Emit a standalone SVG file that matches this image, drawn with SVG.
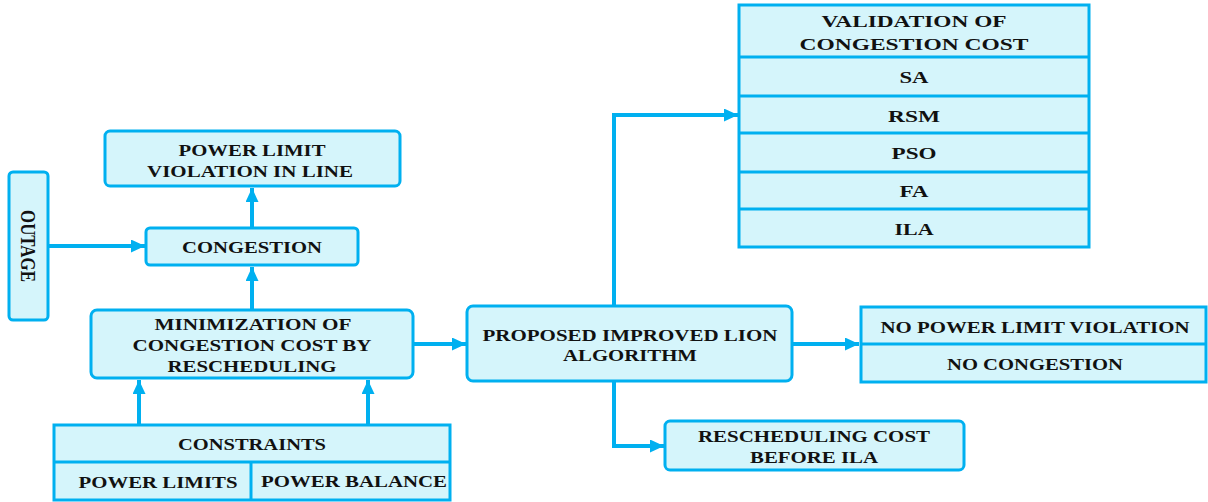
<svg xmlns="http://www.w3.org/2000/svg" width="1208" height="502" viewBox="0 0 1208 502">
<defs>
<style>
.box{fill:#d5f5fb;stroke:#00b0f0;stroke-width:3}
.ln{fill:none;stroke:#00b0f0;stroke-width:4}
.dv{stroke:#00b0f0;stroke-width:3}
text{font-family:"Liberation Serif","Times New Roman",serif;font-weight:bold;font-size:17.5px;fill:#111;text-anchor:middle}
</style>
<marker id="ah" viewBox="0 0 14 13" refX="14" refY="6.5" markerWidth="3.5" markerHeight="3.25" orient="auto" markerUnits="strokeWidth">
<path d="M0,0 L14,6.5 L0,13 z" fill="#00b0f0"/>
</marker>
</defs>
<rect width="1208" height="502" fill="#fff"/>
<g id="connectors">
<line class="ln" x1="48" y1="246" x2="145" y2="246" marker-end="url(#ah)"/>
<line class="ln" x1="252" y1="228" x2="252" y2="188" marker-end="url(#ah)"/>
<line class="ln" x1="252" y1="310" x2="252" y2="267" marker-end="url(#ah)"/>
<line class="ln" x1="139" y1="425" x2="139" y2="380" marker-end="url(#ah)"/>
<line class="ln" x1="368" y1="425" x2="368" y2="380" marker-end="url(#ah)"/>
<line class="ln" x1="413" y1="344" x2="466" y2="344" marker-end="url(#ah)"/>
<polyline class="ln" points="614,306 614,115 738,115" marker-end="url(#ah)"/>
<line class="ln" x1="792" y1="344" x2="859" y2="344" marker-end="url(#ah)"/>
<polyline class="ln" points="614,381 614,446 664,446" marker-end="url(#ah)"/>
</g>
<g id="power-limit-violation">
<rect class="box" x="105" y="131" width="295" height="55" rx="5"/>
<text x="252" y="156" textLength="147" lengthAdjust="spacingAndGlyphs">POWER LIMIT</text>
<text x="250" y="177" textLength="206" lengthAdjust="spacingAndGlyphs">VIOLATION IN LINE</text>
</g>
<g id="outage">
<rect class="box" x="9" y="172" width="39" height="148" rx="4"/>
<text transform="translate(21,246) rotate(90)" style="font-size:22px" textLength="72" lengthAdjust="spacingAndGlyphs">OUTAGE</text>
</g>
<g id="congestion">
<rect class="box" x="146" y="228" width="212" height="37" rx="4"/>
<text x="252" y="253" textLength="140" lengthAdjust="spacingAndGlyphs">CONGESTION</text>
</g>
<g id="minimization">
<rect class="box" x="91" y="310" width="322" height="68" rx="6"/>
<text x="253" y="330" textLength="197" lengthAdjust="spacingAndGlyphs">MINIMIZATION  OF</text>
<text x="252" y="351" textLength="239" lengthAdjust="spacingAndGlyphs">CONGESTION  COST BY</text>
<text x="252" y="372" textLength="169" lengthAdjust="spacingAndGlyphs">RESCHEDULING</text>
</g>
<g id="constraints">
<rect class="box" x="54" y="425" width="396" height="75"/>
<line class="dv" x1="54" y1="462" x2="450" y2="462"/>
<line class="dv" x1="251" y1="462" x2="251" y2="500"/>
<text x="252" y="450" textLength="148" lengthAdjust="spacingAndGlyphs">CONSTRAINTS</text>
<text x="158" y="488" textLength="159" lengthAdjust="spacingAndGlyphs">POWER LIMITS</text>
<text x="354" y="487" textLength="186" lengthAdjust="spacingAndGlyphs">POWER BALANCE</text>
</g>
<g id="proposed">
<rect class="box" x="467" y="306" width="325" height="75" rx="6"/>
<text x="630" y="341" textLength="295" lengthAdjust="spacingAndGlyphs">PROPOSED IMPROVED LION</text>
<text x="630" y="361" textLength="134" lengthAdjust="spacingAndGlyphs">ALGORITHM</text>
</g>
<g id="validation">
<rect class="box" x="739" y="5" width="350" height="242"/>
<line class="dv" x1="739" y1="57" x2="1089" y2="57"/>
<line class="dv" x1="739" y1="96" x2="1089" y2="96"/>
<line class="dv" x1="739" y1="133" x2="1089" y2="133"/>
<line class="dv" x1="739" y1="172" x2="1089" y2="172"/>
<line class="dv" x1="739" y1="209" x2="1089" y2="209"/>
<text x="914" y="27" textLength="185" lengthAdjust="spacingAndGlyphs">VALIDATION OF</text>
<text x="914" y="50" textLength="229" lengthAdjust="spacingAndGlyphs">CONGESTION COST</text>
<text x="914" y="83" textLength="29" lengthAdjust="spacingAndGlyphs">SA</text>
<text x="914" y="122" textLength="52" lengthAdjust="spacingAndGlyphs">RSM</text>
<text x="914" y="159" textLength="45" lengthAdjust="spacingAndGlyphs">PSO</text>
<text x="914" y="197" textLength="29" lengthAdjust="spacingAndGlyphs">FA</text>
<text x="914" y="235" textLength="39" lengthAdjust="spacingAndGlyphs">ILA</text>
</g>
<g id="no-violation">
<rect class="box" x="861" y="307" width="345" height="75"/>
<line class="dv" x1="861" y1="344" x2="1206" y2="344"/>
<text x="1035" y="333" textLength="309" lengthAdjust="spacingAndGlyphs">NO POWER LIMIT VIOLATION</text>
<text x="1035" y="370" textLength="176" lengthAdjust="spacingAndGlyphs">NO CONGESTION</text>
</g>
<g id="rescheduling-cost">
<rect class="box" x="665" y="421" width="299" height="49" rx="5"/>
<text x="814" y="442" textLength="232" lengthAdjust="spacingAndGlyphs">RESCHEDULING  COST</text>
<text x="814" y="463" textLength="128" lengthAdjust="spacingAndGlyphs">BEFORE ILA</text>
</g>
</svg>
